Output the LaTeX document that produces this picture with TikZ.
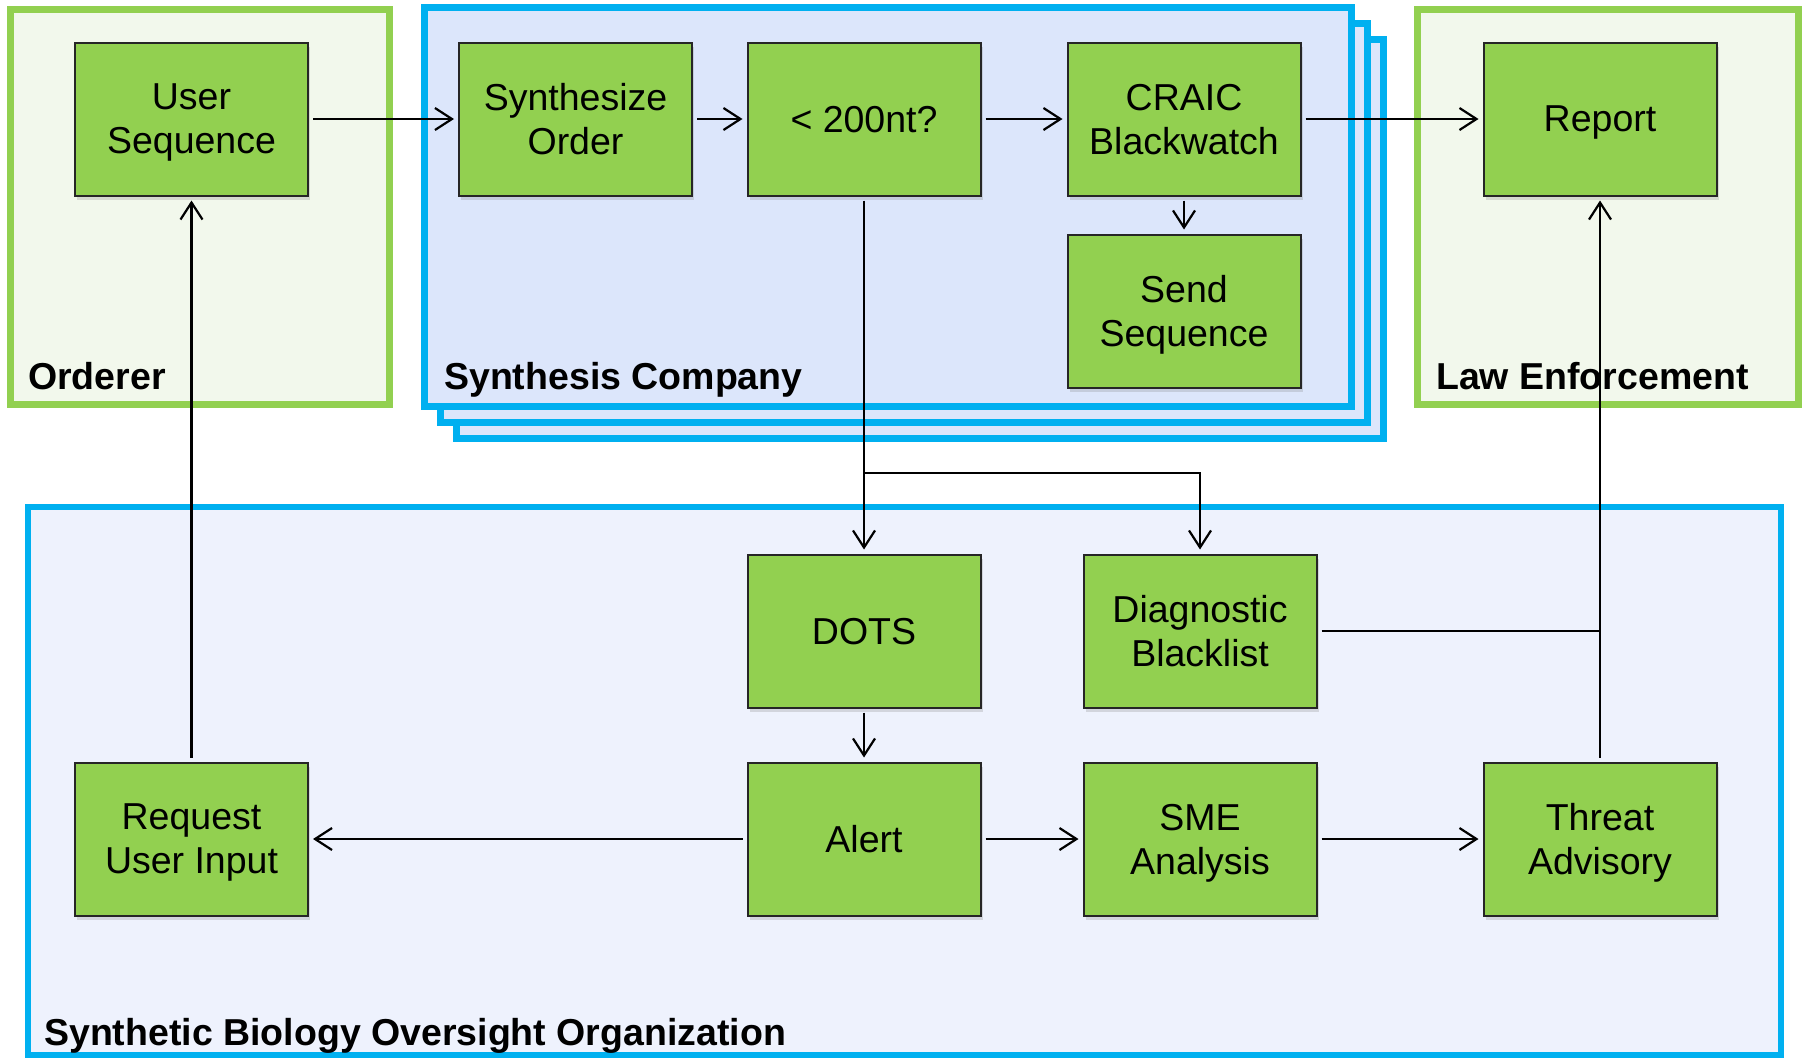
\documentclass[tikz,border=0pt]{standalone}
\usepackage{fontspec}
\setmainfont{Liberation Sans}
\usetikzlibrary{arrows.meta,shadows}

\definecolor{boxgreen}{HTML}{92D050}
\definecolor{palegreen}{HTML}{F2F8EC}
\definecolor{edgeblue}{HTML}{00B0F0}
\definecolor{paleblue}{HTML}{DCE6FB}
\definecolor{lightblue}{HTML}{EEF2FD}

\tikzset{
  stepbox/.style={draw=black!85, line width=2pt, fill=boxgreen,
    minimum width=233pt, minimum height=153pt, align=center,
    text depth=0pt, font=\fontsize{37.5}{44}\selectfont,
    drop shadow={shadow xshift=2pt, shadow yshift=-4pt, opacity=0.25}},
  link/.style={line width=2.2pt,
    -{Straight Barb[length=17pt,width=22pt]},
    shorten >=4pt, shorten <=4pt},
  plain/.style={line width=2.2pt, shorten <=4pt},
  grouplabel/.style={anchor=base west, inner sep=0pt,
    font=\fontsize{37.5}{44}\selectfont\bfseries}
}

\begin{document}
\begin{tikzpicture}[x=1pt,y=-1pt]
\useasboundingbox (0,0) rectangle (1803,1058);

% Orderer
\draw [draw=boxgreen, fill=palegreen, line width=7pt] (10.5,9.5) rectangle (389.5,404.5);

% Synthesis Company, stacked sheets
\foreach \d in {32,16,0}
{
\draw [draw=edgeblue, fill=paleblue, line width=7pt] (424.5+\d,7.5+\d) rectangle (1351.5+\d,406.5+\d);
}

% Law Enforcement
\draw [draw=boxgreen, fill=palegreen, line width=7pt] (1417.5,9.5) rectangle (1798.5,404.5);

% Oversight organization
\draw [draw=edgeblue, fill=lightblue, line width=6pt] (28.3,506.6) rectangle (1780.6,1055);

% Group labels
\node [grouplabel] (ordlabel) at (28,389) {Orderer};
\node [grouplabel] (synlabel) at (444,389) {Synthesis Company};
\node [grouplabel] (lawlabel) at (1436,389) {Law Enforcement};
\node [grouplabel] (sbolabel) at (44,1045) {Synthetic Biology Oversight Organization};

% Top row of steps
\node [stepbox] (userseq) at (191.5,119) {User\\Sequence};
\node [stepbox] (synorder) at (575.5,119) {Synthesize\\Order};
\node [stepbox] (check) at (864,119) {< 200nt?};
\node [stepbox] (craic) at (1184,119) {CRAIC\\Blackwatch};
\node [stepbox] (sendseq) at (1184,311) {Send\\Sequence};
\node [stepbox] (report) at (1600,119) {Report};

% Oversight steps
\node [stepbox] (dots) at (864,631) {DOTS};
\node [stepbox] (blacklist) at (1200,631) {Diagnostic\\Blacklist};
\node [stepbox] (request) at (191.5,839) {Request\\User Input};
\node [stepbox] (alert) at (864,839) {Alert};
\node [stepbox] (sme) at (1200,839) {SME\\Analysis};
\node [stepbox] (threat) at (1600,839) {Threat\\Advisory};

% Order flow
\draw [link] (userseq.east) -- (synorder.west);
\draw [link] (synorder.east) -- (check.west);
\draw [link] (check.east) -- (craic.west);
\draw [link] (craic.east) -- (report.west);
\draw [link] (craic.south) -- (sendseq.north);

% Screening
\draw [link] (check.south) -- (dots.north);
\coordinate (fork) at (864,472.6);
\draw [link, shorten <=0pt] (fork) -| (blacklist.north);
\draw [link] (dots.south) -- (alert.north);

% Responses
\draw [link] (alert.west) -- (request.east);
\draw [link] (alert.east) -- (sme.west);
\draw [link] (sme.east) -- (threat.west);
\draw [link] (threat.north) -- (report.south);
\draw [plain] (blacklist.east) -- (blacklist.east -| threat.north);
\draw [link] (request.north) -- (userseq.south);

\end{tikzpicture}
\end{document}
